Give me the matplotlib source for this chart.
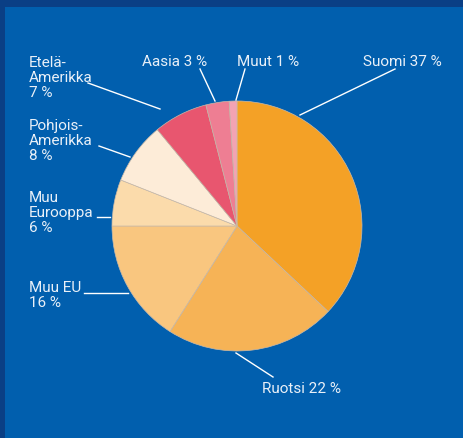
import matplotlib
matplotlib.use("Agg")
import matplotlib.pyplot as plt
from matplotlib.patches import Rectangle

categories = ["Suomi", "Ruotsi", "Muu EU", "Muu Eurooppa", "Pohjois-Amerikka",
              "Etelä-Amerikka", "Aasia", "Muut"]
values = [37, 22, 16, 6, 8, 7, 3, 1]
colors = ["#f4a126", "#f6b356", "#f9c67f", "#fbdbab", "#fdecd8",
          "#e8566f", "#ee7e93", "#f3a3b3"]
labels = ["Suomi 37 %", "Ruotsi 22 %", "Muu EU\n16 %", "Muu\nEurooppa\n6 %",
          "Pohjois-\nAmerikka\n8 %", "Etelä-\nAmerikka\n7 %", "Aasia 3 %", "Muut 1 %"]

W, H = 464, 439
fig = plt.figure(figsize=(W / 100, H / 100), dpi=100)
fig.patch.set_facecolor("#0a3f85")
ax = fig.add_axes([0, 0, 1, 1])
ax.set_xlim(0, W)
ax.set_ylim(0, H)
ax.set_aspect("equal")
ax.axis("off")

def Y(y):
    return H - y

ax.add_patch(Rectangle((5, 0), W - 5, H - 8, facecolor="#015fae", edgecolor="none", zorder=0))

ax.pie(values, colors=colors, startangle=90, counterclock=False,
       center=(237, Y(227)), radius=125,
       wedgeprops=dict(edgecolor="#c9b9a8", linewidth=0.5))
ax.set_xlim(0, W)
ax.set_ylim(0, H)

font = dict(color="#e9f0f8", fontsize=11, family="Roboto", linespacing=1.1)

# label positions (pixel coords: x, last-line baseline y), leader lines
label_pos = [(363, 66), (262, 393), (29, 307), (29, 232), (29, 160), (29, 97), (142, 66), (237, 66)]
leaders = [((395, 70), (300, 116)),
           ((273, 378), (236, 354)),
           ((84, 294), (128, 294)),
           ((97, 218), (110, 218)),
           ((99, 147), (130, 158)),
           ((88, 84), (160, 110)),
           ((200, 70), (215, 102)),
           ((245, 70), (236, 101))]

for lab, (x, y) in zip(labels, label_pos):
    ax.text(x, Y(y), lab, ha="left", va="baseline", **font)
for (p1, p2) in leaders:
    ax.plot([p1[0], p2[0]], [Y(p1[1]), Y(p2[1])], color="white", lw=1.0, zorder=5)

fig.savefig("out.png", dpi=100, facecolor=fig.get_facecolor())
